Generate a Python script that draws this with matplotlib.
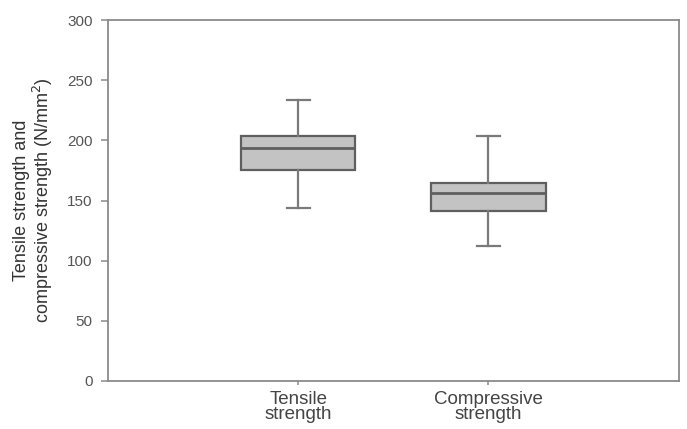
import matplotlib.pyplot as plt

# box plot stats
labels = ['Tensile\nstrength', 'Compressive\nstrength']
whislo = [144, 112.5]
q1 = [175.5, 141.5]
med = [193.5, 156.5]
q3 = [203.5, 165]
whishi = [234, 203.5]

plt.rcParams['font.family'] = ['Liberation Sans', 'DejaVu Sans']

stats = []
for i in range(len(labels)):
    stats.append({'label': labels[i], 'whislo': whislo[i], 'q1': q1[i], 'med': med[i],
                  'q3': q3[i], 'whishi': whishi[i], 'fliers': []})

fig, ax = plt.subplots(figsize=(6.87, 4.29), dpi=100)
fig.subplots_adjust(left=0.157, right=0.988, bottom=0.112, top=0.953)

edge = '#5f5f5f'
ax.bxp(stats, positions=[1, 2], widths=0.6, patch_artist=True, showfliers=False,
       boxprops=dict(facecolor='#c3c3c3', edgecolor=edge, linewidth=1.6),
       medianprops=dict(color=edge, linewidth=2.0),
       whiskerprops=dict(color='#7a7a7a', linewidth=1.6),
       capprops=dict(color='#7a7a7a', linewidth=1.6),
       capwidths=0.12)

ax.set_xlim(0, 3)
ax.set_ylim(0, 300)
ax.set_yticks(range(0, 301, 50))

for s in ax.spines.values():
    s.set_color('#8a8a8a')
    s.set_linewidth(1.3)

ax.tick_params(axis='y', length=5, width=1.1, color='#8a8a8a', labelsize=11,
               labelcolor='#555555', pad=6)
ax.tick_params(axis='x', length=3, width=1.1, color='#8a8a8a', labelsize=13.5,
               labelcolor='#444444', pad=4)
for t in ax.get_xticklabels():
    t.set_linespacing(0.9)

ax.set_ylabel('Tensile strength and\ncompressive strength (N/mm$^2$)',
              fontsize=13, color='#333333', labelpad=9, linespacing=1.05)

fig.savefig('out.png')
